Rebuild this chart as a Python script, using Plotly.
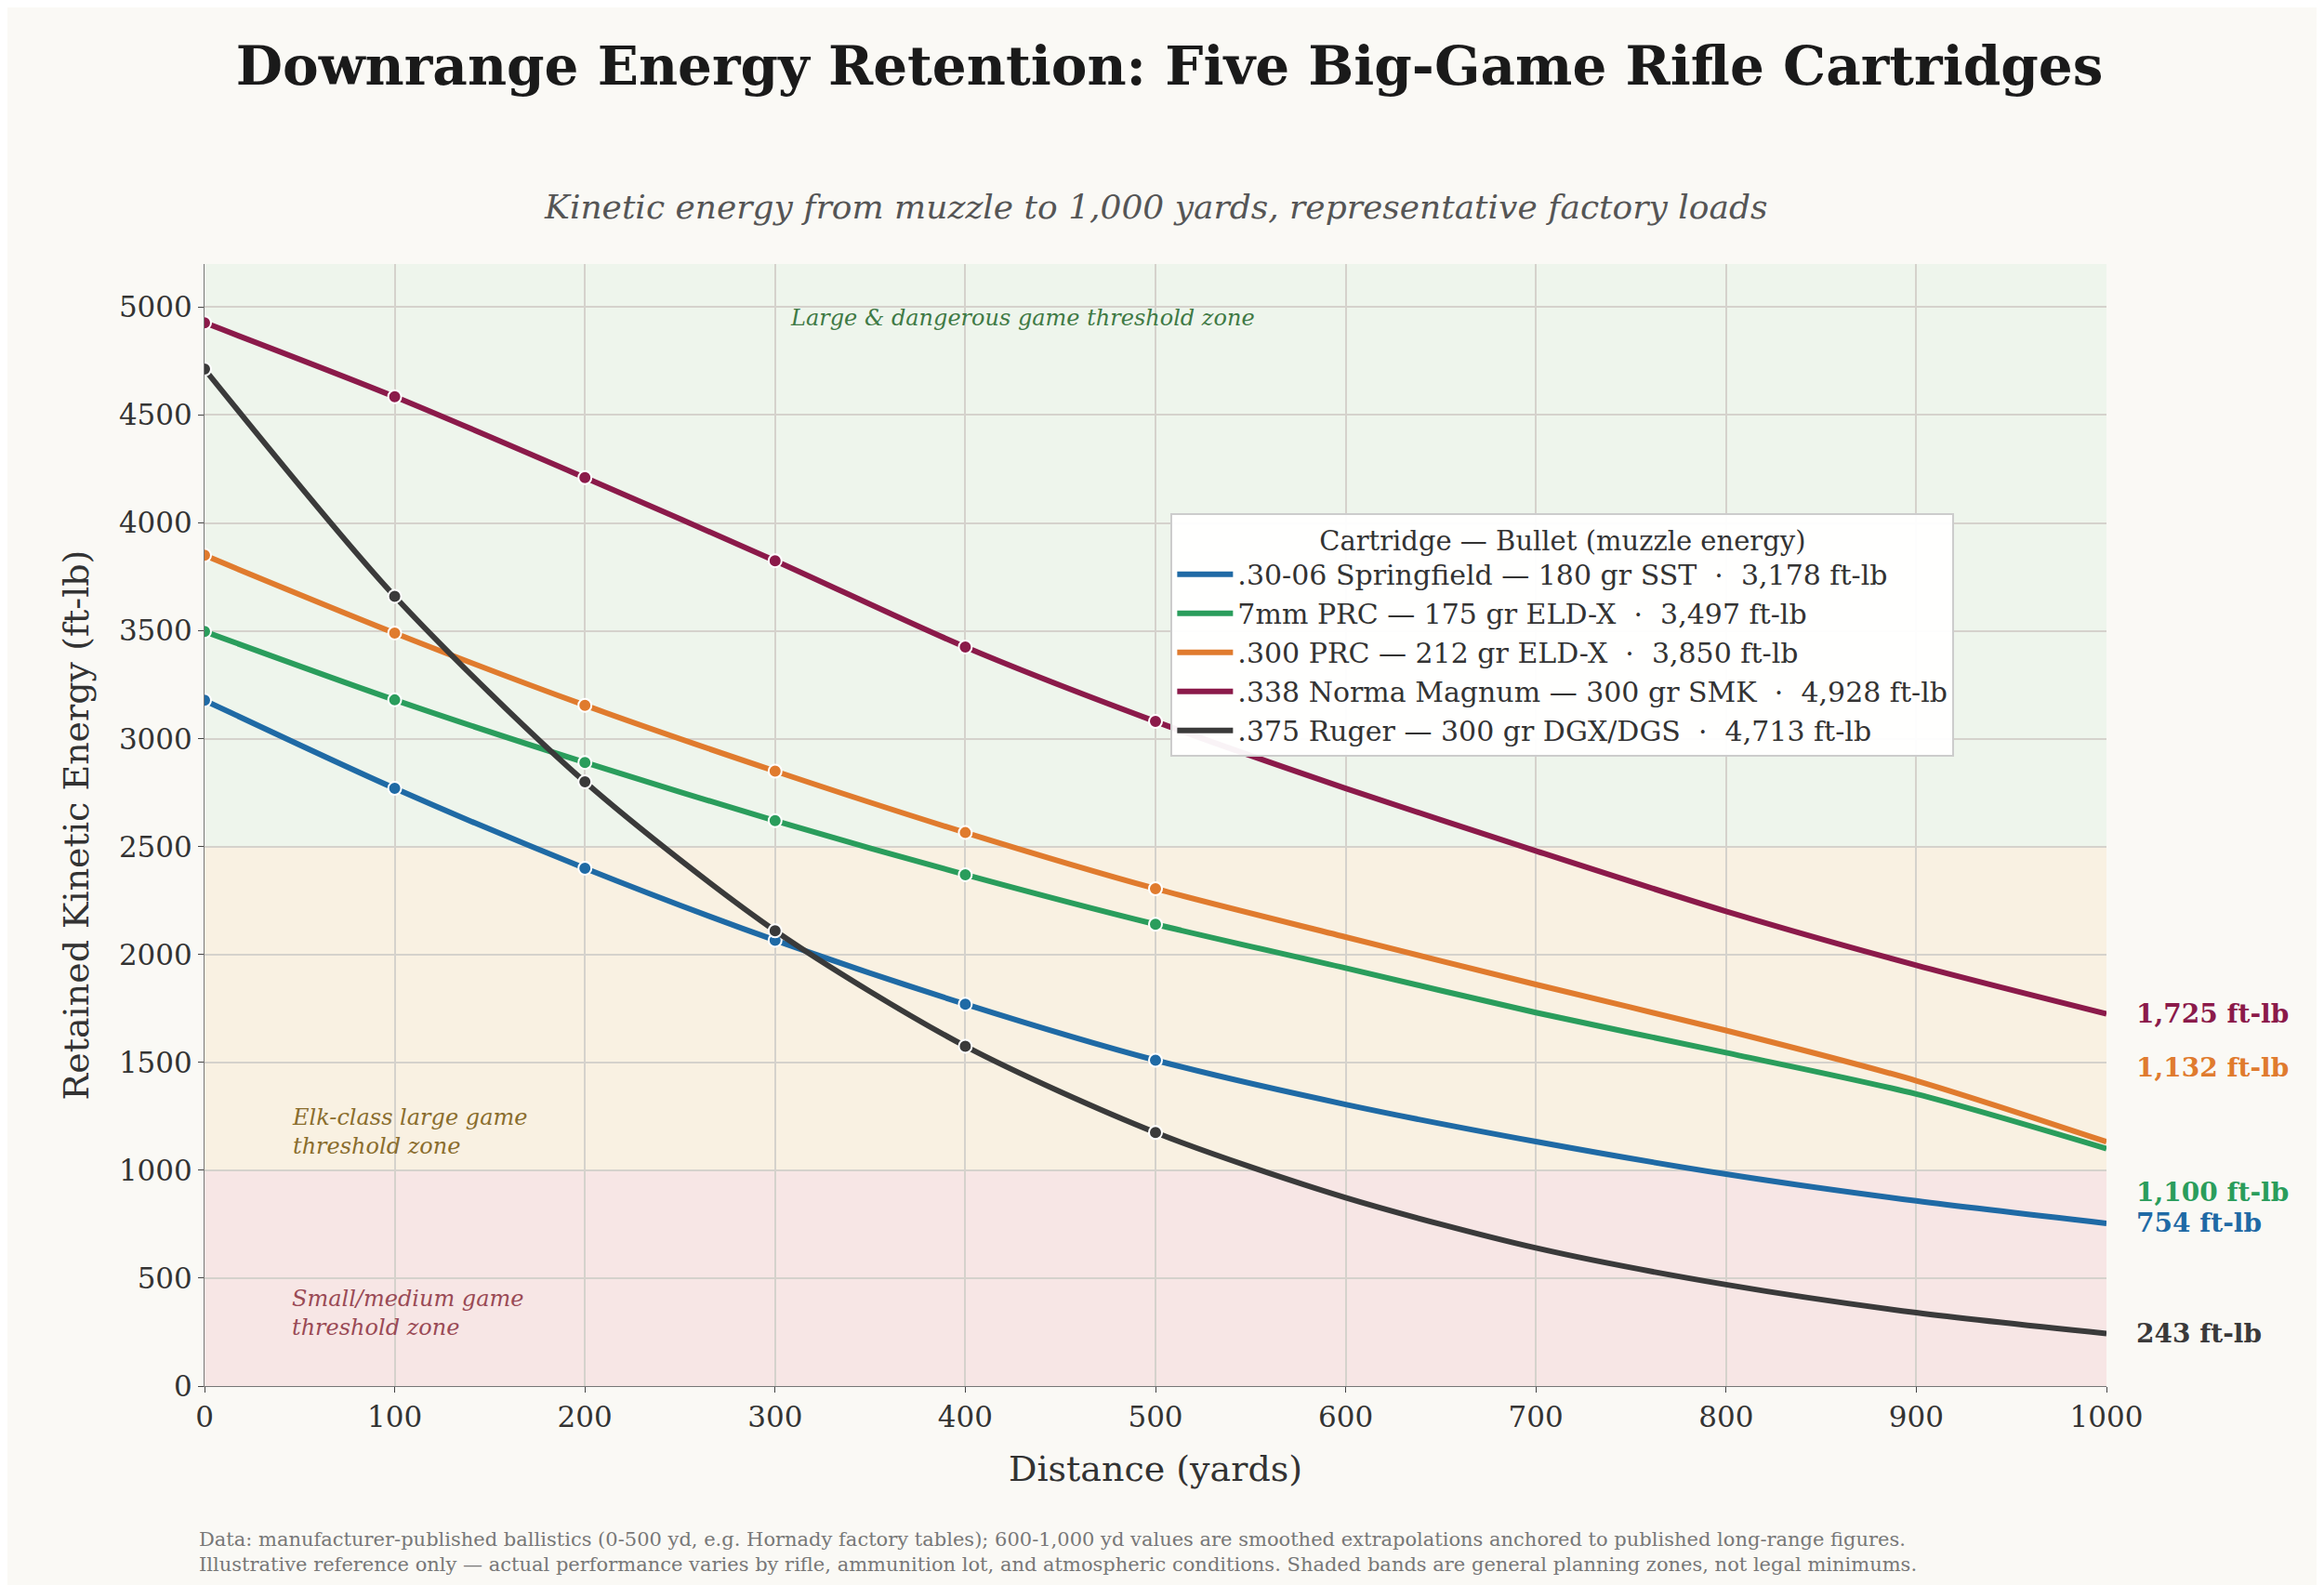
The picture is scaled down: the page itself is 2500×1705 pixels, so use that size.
import plotly.graph_objects as go

dist_all = [0,100,200,300,400,500,600,700,800,900,1000]
names = [".30-06 Springfield — 180 gr SST  ·  3,178 ft-lb",
         "7mm PRC — 175 gr ELD-X  ·  3,497 ft-lb",
         ".300 PRC — 212 gr ELD-X  ·  3,850 ft-lb",
         ".338 Norma Magnum — 300 gr SMK  ·  4,928 ft-lb",
         ".375 Ruger — 300 gr DGX/DGS  ·  4,713 ft-lb"]
e3006 = [3178,2770,2400,2066,1770,1510,1305,1133,982,858,754]
e7prc = [3497,3180,2890,2620,2370,2140,1937,1731,1545,1353,1100]
e300prc = [3850,3490,3155,2850,2565,2305,2081,1861,1648,1415,1132]
e338 = [4928,4585,4210,3825,3425,3080,2770,2480,2200,1950,1725]
e375 = [4713,3660,2800,2110,1575,1175,873,640,470,340,243]
series = [e3006,e7prc,e300prc,e338,e375]
colors = ["#1f6aa5","#2a9d5c","#e07b2e","#8b1a4a","#3a3a3a"]
end_labels = ["754 ft-lb","1,100 ft-lb","1,132 ft-lb","1,725 ft-lb","243 ft-lb"]

F = "DejaVu Serif"
fig = go.Figure()
for n,s,c in zip(names,series,colors):
    fig.add_trace(go.Scatter(x=dist_all,y=s,mode="lines",name=n,line=dict(color=c,width=6,shape="spline",smoothing=0.8)))
    fig.add_trace(go.Scatter(x=dist_all[:6],y=s[:6],mode="markers",showlegend=False,
        marker=dict(color=c,size=14,line=dict(color="white",width=2))))

fig.add_hrect(y0=2500,y1=5200,fillcolor="#eef5ec",line_width=0,layer="below")
fig.add_hrect(y0=1000,y1=2500,fillcolor="#f9f1e2",line_width=0,layer="below")
fig.add_hrect(y0=0,y1=1000,fillcolor="#f7e6e5",line_width=0,layer="below")

ann = [
 dict(x=430,y=4950,text="Large & dangerous game threshold zone",font=dict(color="#3f7a45",size=24),xanchor="center",yanchor="middle"),
 dict(x=45,y=1180,text="Elk-class large game<br>threshold zone",font=dict(color="#8a6d2d",size=24),xanchor="left",yanchor="middle",align="left"),
 dict(x=45,y=340,text="Small/medium game<br>threshold zone",font=dict(color="#9a4a55",size=24),xanchor="left",yanchor="middle",align="left"),
]
for a in ann:
    a.update(showarrow=False); a["font"]["family"]=F; a["font"]["style"]="italic"
    fig.add_annotation(**a)
ypos = {0:(754,None),1:(900,True),2:(1475,True),3:(1725,None),4:(243,None)}
for i,(lab,c) in enumerate(zip(end_labels,colors)):
    yv,arrow = ypos[i]
    fig.add_annotation(x=1000,y=yv,text=f"<b>{lab}</b>",showarrow=False,xanchor="left",xshift=30,
        font=dict(family=F,size=28,color=c))
    if arrow:
        fig.add_shape(type="line",x0=1003,y0=series[i][-1],x1=1036,y1=yv+(70 if i==1 else -120),
            line=dict(color=c,width=1.5),opacity=0.7)

fig.update_layout(
    width=2500,height=1705,paper_bgcolor="#faf9f5",plot_bgcolor="#faf9f5",
    margin=dict(l=212,r=242,t=276,b=222),font=dict(family=F,size=31,color="#333"),
    title=dict(text="<b>Downrange Energy Retention: Five Big-Game Rifle Cartridges</b>",x=0.5,y=0.975,yanchor="top",
               font=dict(size=58,color="#1a1a1a")),
    legend=dict(x=0.508,y=0.778,xanchor="left",yanchor="top",bgcolor="rgba(255,255,255,0.95)",bordercolor="#ccc",borderwidth=2,
                title=dict(text="Cartridge — Bullet (muzzle energy)",side="top center",font=dict(size=29)),font=dict(size=30),
                itemwidth=60),
    xaxis=dict(range=[0,1000],dtick=100,showgrid=True,gridcolor="#d5d2cc",gridwidth=1.5,showline=True,linecolor="#777",
               ticks="outside",ticklen=6,title=dict(text="Distance (yards)",font=dict(size=38),standoff=25),zeroline=False),
    yaxis=dict(range=[0,5200],dtick=500,showgrid=True,gridcolor="#d5d2cc",gridwidth=1.5,showline=True,linecolor="#777",
               ticks="outside",ticklen=6,title=dict(text="Retained Kinetic Energy (ft-lb)",font=dict(size=38),standoff=20),zeroline=False),
)
fig.add_annotation(xref="paper",yref="paper",x=0.5,y=1.07,text="<i>Kinetic energy from muzzle to 1,000 yards, representative factory loads</i>",
    showarrow=False,font=dict(family=F,size=36,color="#555"))
fig.add_annotation(xref="paper",yref="paper",x=-0.004,y=-0.125,xanchor="left",yanchor="top",align="left",showarrow=False,
    text="Data: manufacturer-published ballistics (0-500 yd, e.g. Hornady factory tables); 600-1,000 yd values are smoothed extrapolations anchored to published long-range figures.<br>Illustrative reference only — actual performance varies by rifle, ammunition lot, and atmospheric conditions. Shaded bands are general planning zones, not legal minimums.",
    font=dict(family=F,size=21,color="#777"))
fig.write_html("out.html")
